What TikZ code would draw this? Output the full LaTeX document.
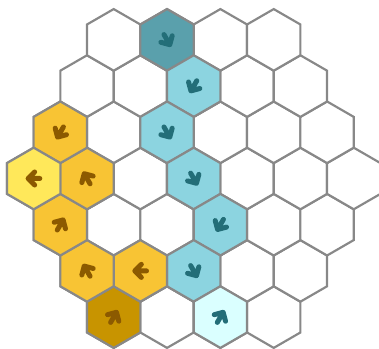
\documentclass[tikz,border=0pt]{standalone}
\definecolor{startteal}{HTML}{5AA0AC}
\definecolor{pathteal}{HTML}{8CD4E0}
\definecolor{goalteal}{HTML}{DAFFFF}
\definecolor{arrowteal}{HTML}{236E78}
\definecolor{startgold}{HTML}{C89400}
\definecolor{pathgold}{HTML}{F8C434}
\definecolor{goalgold}{HTML}{FFE85A}
\definecolor{arrowgold}{HTML}{8C5A00}
\definecolor{gridgray}{HTML}{888888}
% cell in doubled coordinates: column j, row r (up is +)
\newcommand{\hexcell}[3]{%
  \draw[cell, fill=#3] ({#1*0.8660254},{#2*1.5})
    +(90:1) -- +(30:1) -- +(-30:1) -- +(-90:1) -- +(-150:1) -- +(150:1) -- cycle;}
\newcommand{\hexarrow}[4]{%
  \draw[dirarrow, draw=#4, shift={({#1*0.8660254},{#2*1.5})}, rotate=#3]
    (-0.2,0) -- (0.18,0) (-0.032,0.212) -- (0.18,0) -- (-0.032,-0.212);}

\begin{document}
\begin{tikzpicture}[
  cell/.style={draw=gridgray, line width=2pt},
  dirarrow/.style={line width=4.6pt, line cap=round, line join=round}]
\useasboundingbox (-6.289,-5.536) rectangle (6.016,5.795);
\clip (-6.289,-5.536) rectangle (6.016,5.795);
\foreach \r in {-3,...,3} {
  \pgfmathtruncatemacro\n{6-abs(\r)}
  \pgfmathtruncatemacro\ja{-\n}
  \pgfmathtruncatemacro\jb{2-\n}
  \foreach \j in {\ja,\jb,...,\n} {\hexcell{\j}{\r}{white}}
}
% teal path
\hexcell{-1}{3}{startteal}  \hexarrow{-1}{3}{-60}{arrowteal}
\hexcell{0}{2}{pathteal}    \hexarrow{0}{2}{-120}{arrowteal}
\hexcell{-1}{1}{pathteal}   \hexarrow{-1}{1}{-60}{arrowteal}
\hexcell{0}{0}{pathteal}    \hexarrow{0}{0}{-60}{arrowteal}
\hexcell{1}{-1}{pathteal}   \hexarrow{1}{-1}{-120}{arrowteal}
\hexcell{0}{-2}{pathteal}   \hexarrow{0}{-2}{-60}{arrowteal}
\hexcell{1}{-3}{goalteal}   \hexarrow{1}{-3}{60}{arrowteal}
% gold path
\hexcell{-3}{-3}{startgold} \hexarrow{-3}{-3}{60}{arrowgold}
\hexcell{-2}{-2}{pathgold}  \hexarrow{-2}{-2}{180}{arrowgold}
\hexcell{-4}{-2}{pathgold}  \hexarrow{-4}{-2}{120}{arrowgold}
\hexcell{-5}{-1}{pathgold}  \hexarrow{-5}{-1}{60}{arrowgold}
\hexcell{-4}{0}{pathgold}   \hexarrow{-4}{0}{120}{arrowgold}
\hexcell{-5}{1}{pathgold}   \hexarrow{-5}{1}{-120}{arrowgold}
\hexcell{-6}{0}{goalgold}   \hexarrow{-6}{0}{180}{arrowgold}
\end{tikzpicture}
\end{document}
